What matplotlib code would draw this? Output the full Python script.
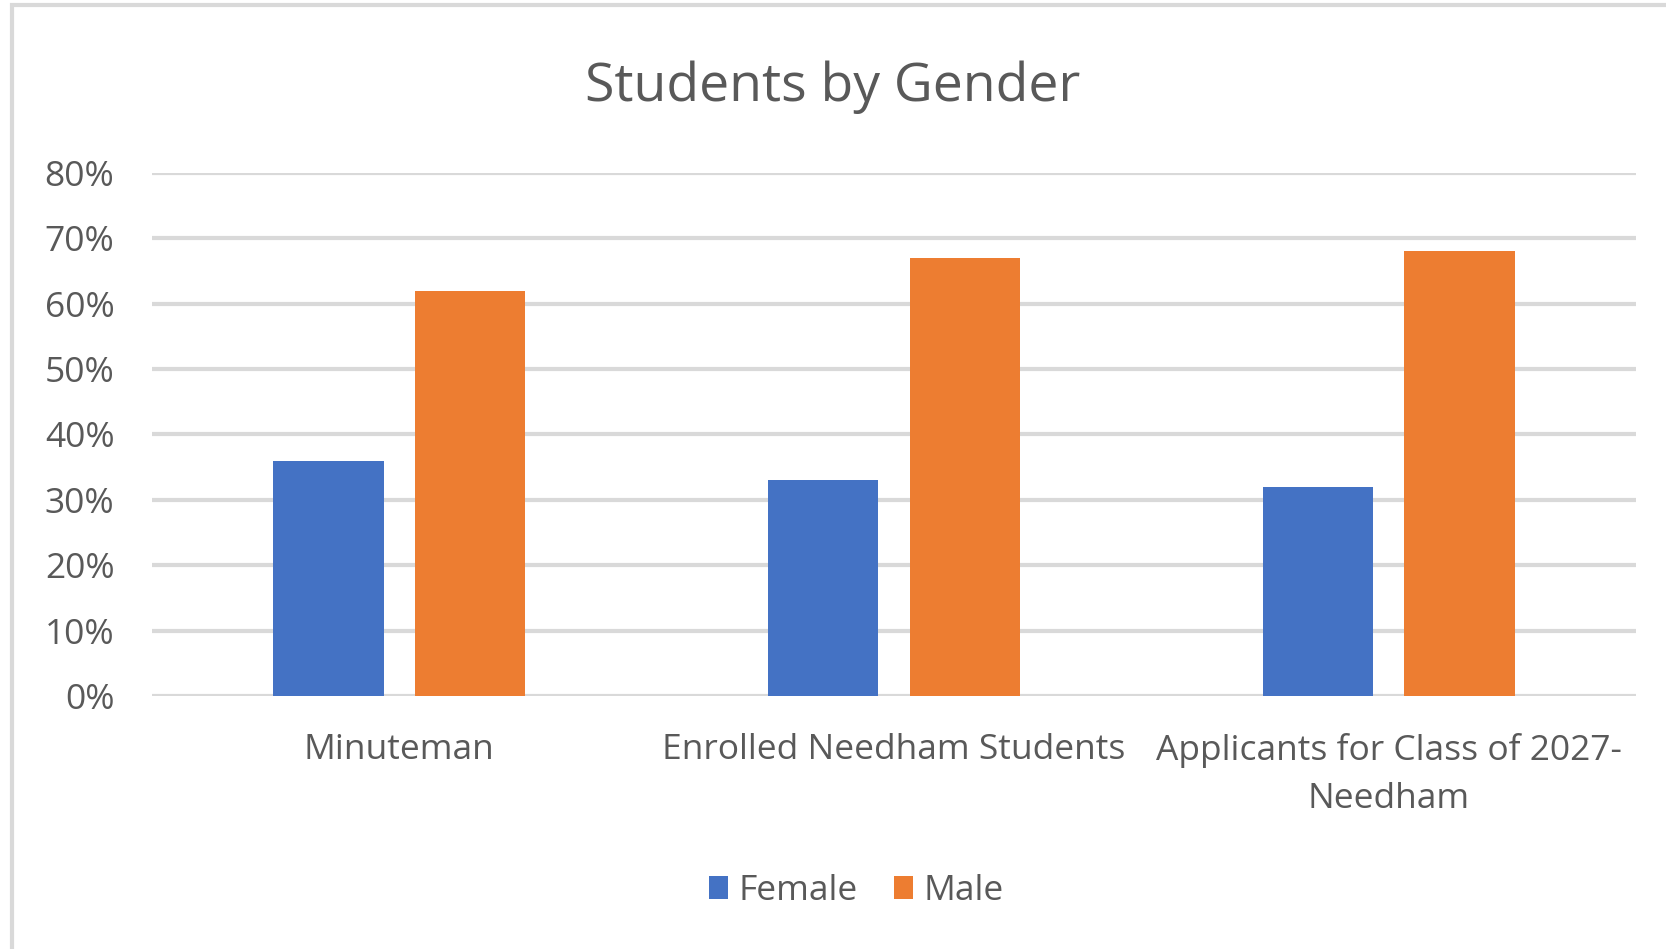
import numpy as np
import matplotlib.pyplot as plt
from matplotlib.patches import Rectangle

# Данные графика
categories = ['Minuteman', 'Enrolled Needham Students',
              'Applicants for Class of 2027-\nNeedham']
female = [36, 33, 32]
male = [62, 67, 68]
series_names = ['Female', 'Male']
yticks = [0, 10, 20, 30, 40, 50, 60, 70, 80]

TEXT = '#595959'
plt.rcParams['font.family'] = ['Open Sans', 'DejaVu Sans']

fig = plt.figure(figsize=(16.66, 9.49), dpi=100)
ax = fig.add_axes([0.0912, 0.2666, 0.8908, 0.5511])

# рамка области диаграммы
fig.patches.append(Rectangle((12 / 1666, -0.05), 1.2, 1 - 5 / 949 + 0.05,
                             transform=fig.transFigure, fill=False,
                             edgecolor='#D9D9D9', linewidth=3))

x = np.arange(len(categories))
w = 0.223
off = 0.143
ax.bar(x - off, female, w, color='#4472C4', label=series_names[0], zorder=3)
ax.bar(x + off, male, w, color='#ED7D31', label=series_names[1], zorder=3)

ax.set_xlim(-0.5, 2.5)
ax.set_ylim(0, 80)
ax.set_yticks(yticks)
ax.set_yticklabels([f'{v}%' for v in yticks])
ax.yaxis.grid(True, color='#D9D9D9', linewidth=3)
ax.set_axisbelow(True)
for s in ax.spines.values():
    s.set_visible(False)
ax.tick_params(axis='y', length=0, pad=27, labelsize=25.5, labelcolor=TEXT)
ax.set_xticks(x)
ax.set_xticklabels(categories)
ax.tick_params(axis='x', length=0, pad=27, labelsize=25.5, labelcolor=TEXT)
for lbl in ax.get_xticklabels():
    lbl.set_linespacing(1.52)

fig.text(0.5, 0.908, 'Students by Gender', ha='center', va='center',
         fontsize=38.5, color=TEXT)

leg = fig.legend(loc='center', bbox_to_anchor=(0.514, 0.061), ncol=2,
                 frameon=False, fontsize=25.5, handlelength=0.55,
                 handleheight=0.6, handletextpad=0.3, columnspacing=1.0)
for t in leg.get_texts():
    t.set_color(TEXT)

fig.savefig('out.png', dpi=100)
